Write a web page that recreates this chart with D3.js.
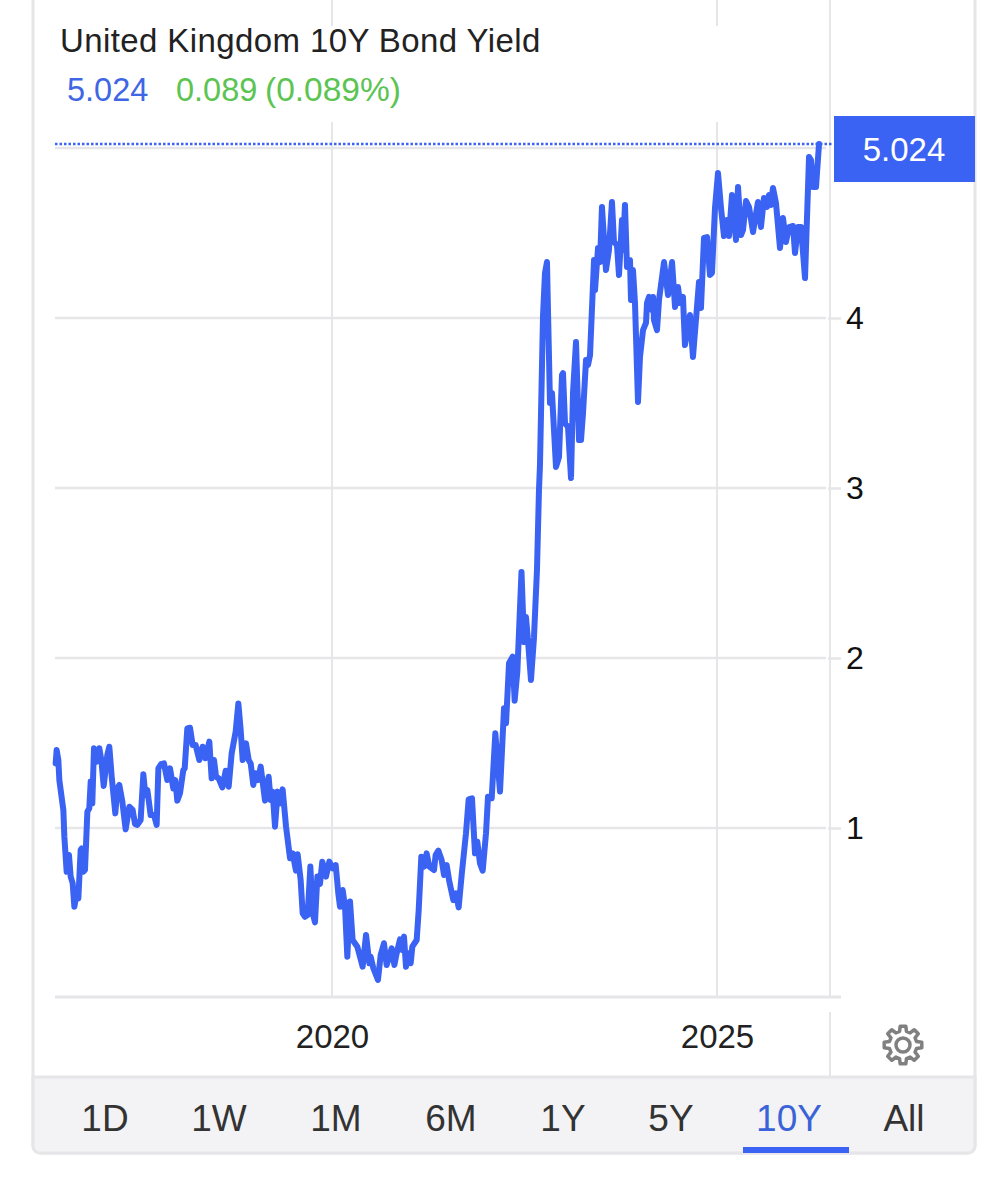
<!DOCTYPE html>
<html>
<head>
<meta charset="utf-8">
<script src="https://cdn.jsdelivr.net/npm/d3@7"></script>
<style>
  html, body { margin: 0; padding: 0; background: #fff; }
  text { font-family: "Liberation Sans", sans-serif; }
  .axis .domain { display: none; }
</style>
</head>
<body>
<script>
// decimal year of each reading and the yield at that reading
const years = [
2016.411,2016.424,2016.446,2016.459,2016.511,2016.524,2016.554,2016.584,2016.606,2016.632,
2016.654,2016.684,2016.706,2016.736,2016.749,2016.771,2016.792,2016.823,2016.848,2016.866,
2016.887,2016.909,2016.944,2016.978,2017.004,2017.035,2017.082,2017.108,2017.139,2017.186,
2017.212,2017.238,2017.277,2017.320,2017.368,2017.411,2017.442,2017.472,2017.515,2017.550,
2017.576,2017.602,2017.645,2017.688,2017.723,2017.745,2017.779,2017.818,2017.861,2017.896,
2017.939,2017.965,2017.991,2018.026,2018.069,2018.087,2018.121,2018.156,2018.190,2018.229,
2018.277,2018.320,2018.355,2018.407,2018.437,2018.468,2018.494,2018.528,2018.576,2018.619,
2018.658,2018.697,2018.749,2018.784,2018.814,2018.840,2018.883,2018.918,2018.944,2018.978,
2019.004,2019.039,2019.074,2019.130,2019.177,2019.203,2019.229,2019.260,2019.294,2019.325,
2019.359,2019.403,2019.455,2019.489,2019.532,2019.554,2019.593,2019.619,2019.649,2019.684,
2019.719,2019.749,2019.779,2019.810,2019.844,2019.874,2019.922,2019.965,2020.009,2020.048,
2020.082,2020.104,2020.139,2020.169,2020.199,2020.234,2020.268,2020.329,2020.398,2020.442,
2020.485,2020.502,2020.537,2020.597,2020.632,2020.675,2020.710,2020.775,2020.810,2020.840,
2020.883,2020.909,2020.935,2020.961,2020.991,2021.022,2021.043,2021.100,2021.126,2021.160,
2021.195,2021.229,2021.264,2021.325,2021.346,2021.381,2021.424,2021.455,2021.489,2021.524,
2021.576,2021.610,2021.645,2021.684,2021.740,2021.775,2021.818,2021.857,2021.887,2021.922,
2021.957,2022.000,2022.026,2022.074,2022.121,2022.182,2022.212,2022.234,2022.260,2022.299,
2022.346,2022.372,2022.407,2022.461,2022.494,2022.519,2022.545,2022.584,2022.623,2022.662,
2022.688,2022.701,2022.740,2022.766,2022.792,2022.805,2022.831,2022.857,2022.909,2022.948,
2022.987,2023.000,2023.026,2023.065,2023.104,2023.130,2023.169,2023.208,2023.234,2023.260,
2023.299,2023.325,2023.351,2023.403,2023.416,2023.455,2023.481,2023.506,2023.558,2023.597,
2023.636,2023.662,2023.701,2023.727,2023.766,2023.779,2023.805,2023.831,2023.870,2023.883,
2023.909,2023.935,2023.974,2024.000,2024.039,2024.078,2024.091,2024.117,2024.156,2024.169,
2024.182,2024.221,2024.247,2024.312,2024.364,2024.416,2024.455,2024.494,2024.519,2024.558,
2024.584,2024.649,2024.688,2024.766,2024.792,2024.831,2024.870,2024.909,2024.935,2024.974,
2025.013,2025.052,2025.091,2025.130,2025.156,2025.195,2025.247,2025.273,2025.312,2025.338,
2025.377,2025.416,2025.468,2025.532,2025.571,2025.610,2025.649,2025.675,2025.701,2025.727,
2025.766,2025.818,2025.857,2025.896,2025.935,2025.987,2026.013,2026.052,2026.091,2026.143,
2026.195,2026.221,2026.247,2026.286,2026.325
];
const yields = [
1.380,1.459,1.400,1.282,1.106,0.949,0.743,0.841,0.714,0.675,
0.537,0.616,0.586,0.871,0.880,0.743,0.753,1.096,1.116,1.273,
1.145,1.469,1.390,1.469,1.400,1.247,1.429,1.478,1.302,1.086,
1.233,1.253,1.155,0.992,1.125,1.106,1.024,1.018,1.047,1.316,
1.194,1.224,1.076,1.076,1.018,1.351,1.375,1.380,1.282,1.351,
1.233,1.282,1.161,1.204,1.341,1.351,1.586,1.590,1.488,1.488,
1.400,1.478,1.410,1.508,1.292,1.400,1.302,1.292,1.239,1.337,
1.243,1.439,1.567,1.733,1.576,1.400,1.498,1.400,1.380,1.253,
1.322,1.282,1.361,1.161,1.302,1.165,1.214,1.008,1.214,1.145,
1.227,1.008,0.822,0.851,0.749,0.845,0.694,0.498,0.478,0.488,
0.773,0.498,0.445,0.714,0.671,0.802,0.714,0.802,0.763,0.782,
0.616,0.537,0.635,0.537,0.243,0.567,0.341,0.302,0.184,0.371,
0.204,0.243,0.175,0.106,0.253,0.322,0.194,0.292,0.194,0.263,
0.345,0.282,0.361,0.184,0.263,0.204,0.302,0.341,0.518,0.831,
0.773,0.851,0.773,0.753,0.841,0.867,0.812,0.724,0.782,0.684,
0.576,0.616,0.533,0.724,0.969,1.169,1.175,0.851,0.920,0.792,
0.749,0.969,1.184,1.175,1.557,1.214,1.498,1.704,1.616,1.969,
2.008,1.749,1.920,2.506,2.094,2.241,2.106,1.871,2.118,2.518,
2.988,3.135,4.006,4.265,4.329,4.047,3.500,3.559,3.124,3.182,
3.665,3.676,3.382,3.359,3.059,3.559,3.859,3.282,3.282,3.441,
3.753,3.724,3.782,4.341,4.165,4.412,4.329,4.653,4.282,4.400,
4.682,4.447,4.429,4.253,4.576,4.400,4.665,4.300,4.341,4.106,
4.282,4.088,3.506,3.771,3.929,3.971,4.088,4.124,4.047,4.124,
3.988,3.929,4.106,4.329,4.135,4.329,4.065,4.182,4.088,4.124,
3.841,4.018,3.771,4.212,4.059,4.471,4.476,4.253,4.265,4.647,
4.853,4.647,4.482,4.576,4.482,4.724,4.459,4.771,4.488,4.518,
4.688,4.653,4.506,4.682,4.535,4.706,4.653,4.724,4.665,4.765,
4.676,4.412,4.588,4.447,4.535,4.541,4.382,4.535,4.535,4.235,
4.947,4.929,4.771,4.771,5.024
];
const yTicks = [1, 2, 3, 4, 5];
const yTickLabels = ["1", "2", "3", "4", ""];
const xTicks = [2020, 2025];
const ranges = ["1D", "1W", "1M", "6M", "1Y", "5Y", "10Y", "All"];
const activeRange = "10Y";
const lastValue = "5.024";
const change = "0.089";
const changePct = "(0.089%)";

const blue = "#3a63f4", grid = "#e6e6e9", green = "#5cc452";
const width = 1008, height = 1200;

const svg = d3.select("body").append("svg")
    .attr("width", width).attr("height", height)
    .style("display", "block");

// scales, years run left to right, yield 0 sits on the bottom line
const x = d3.scaleLinear().domain([2020, 2025]).range([332, 717]);
const y = d3.scaleLinear().domain([1, 4]).range([828, 318]);
const bottom = 997, left = 55, plotRight = 826;

// card frame
svg.append("path")
    .attr("d", "M33,0 V1146 a7,7 0 0 0 7,7 H968 a7,7 0 0 0 7,-7 V0")
    .attr("fill", "#fff").attr("stroke", grid).attr("stroke-width", 3);
svg.append("path")
    .attr("d", "M33,1077 H975 V1146 a7,7 0 0 1 -7,7 H40 a7,7 0 0 1 -7,-7 Z")
    .attr("fill", "#f3f3f5").attr("stroke", grid).attr("stroke-width", 3);

// divider between plot and price scale
svg.append("line").attr("x1", 830).attr("x2", 830).attr("y1", 0).attr("y2", 998)
    .attr("stroke", grid).attr("stroke-width", 2);
svg.append("line").attr("x1", 830).attr("x2", 830).attr("y1", 1012).attr("y2", 1077)
    .attr("stroke", grid).attr("stroke-width", 2);

// year gridlines, they stop under the header
svg.append("g").selectAll("line").data(xTicks).join("line")
    .attr("x1", d => x(d)).attr("x2", d => x(d))
    .attr("y1", 122).attr("y2", bottom)
    .attr("stroke", grid).attr("stroke-width", 2);
svg.append("g").selectAll("line").data(xTicks).join("line")
    .attr("x1", d => x(d)).attr("x2", d => x(d))
    .attr("y1", 0).attr("y2", 26)
    .attr("stroke", grid).attr("stroke-width", 2);

// yield gridlines
svg.append("g").selectAll("line").data(yTicks).join("line")
    .attr("x1", left).attr("x2", plotRight)
    .attr("y1", d => y(d)).attr("y2", d => y(d))
    .attr("stroke", grid).attr("stroke-width", 2.5);

// y axis, ticks sit right of the divider
const yAxis = d3.axisRight(y).tickValues(yTicks)
    .tickFormat((d, i) => yTickLabels[i]).tickSize(13).tickPadding(5);
const gy = svg.append("g").attr("class", "axis")
    .attr("transform", "translate(828,0)").call(yAxis);
gy.selectAll("line").attr("stroke", grid).attr("stroke-width", 2.5)
    .filter(d => d === 5).remove();
gy.selectAll("text").attr("font-size", 32).attr("fill", "#111")
    .attr("font-family", "Liberation Sans, sans-serif");

// x axis
svg.append("line").attr("x1", left).attr("x2", 841).attr("y1", bottom).attr("y2", bottom)
    .attr("stroke", grid).attr("stroke-width", 3);
const xAxis = d3.axisBottom(x).tickValues(xTicks).tickFormat(d3.format("d"))
    .tickSize(0).tickPadding(28);
const gx = svg.append("g").attr("class", "axis")
    .attr("transform", `translate(0,${bottom})`).call(xAxis);
gx.selectAll("text").attr("font-size", 33).attr("fill", "#222")
    .attr("font-family", "Liberation Sans, sans-serif");

// last value dotted line
svg.append("line")
    .attr("x1", left).attr("x2", 832)
    .attr("y1", y(+lastValue)).attr("y2", y(+lastValue))
    .attr("stroke", blue).attr("stroke-width", 2.5)
    .attr("stroke-dasharray", "2.5,2");

// the series
const line = d3.line().x((d, i) => x(years[i])).y(d => y(d));
svg.append("path")
    .attr("d", line(yields))
    .attr("fill", "none").attr("stroke", blue).attr("stroke-width", 6)
    .attr("stroke-linejoin", "round").attr("stroke-linecap", "round");

// last value badge
svg.append("rect").attr("x", 834).attr("y", 116).attr("width", 141).attr("height", 66)
    .attr("fill", blue);
svg.append("text").attr("x", 904).attr("y", 161).attr("text-anchor", "middle")
    .attr("font-size", 33).attr("fill", "#fff").text(lastValue);

// header
svg.append("text").attr("x", 60).attr("y", 52).attr("font-size", 33)
    .attr("letter-spacing", 0.4)
    .attr("fill", "#222").text("United Kingdom 10Y Bond Yield");
svg.append("text").attr("x", 67).attr("y", 101).attr("font-size", 32.5)
    .attr("fill", "#3f66e4").text(lastValue);
svg.append("text").attr("x", 176).attr("y", 101).attr("font-size", 32.5)
    .attr("fill", green).text(change);
svg.append("text").attr("x", 265).attr("y", 101).attr("font-size", 33.5)
    .attr("fill", green).text(changePct);

// range selector
const rangeCenters = [105, 219, 336, 451, 563, 671, 789, 904];
svg.append("g").selectAll("text").data(ranges).join("text")
    .attr("x", (d, i) => rangeCenters[i]).attr("y", 1131)
    .attr("text-anchor", "middle").attr("font-size", 37)
    .attr("fill", d => d === activeRange ? "#3a63d8" : "#333").text(d => d);
svg.append("rect").attr("x", 743).attr("y", 1147).attr("width", 106).attr("height", 6)
    .attr("fill", blue);

// settings gear
const teeth = 8, outer = 19, inner = 14;
const gearPts = [];
d3.range(teeth).forEach(i => {
    const a = (i / teeth) * 2 * Math.PI - Math.PI / 2, s = 0.2;
    gearPts.push([a - s * 1.25, inner], [a - s * 0.75, outer], [a + s * 0.75, outer], [a + s * 1.25, inner]);
});
const gear = svg.append("g").attr("transform", "translate(903,1045)")
    .attr("fill", "none").attr("stroke", "#808080").attr("stroke-width", 3.5)
    .attr("stroke-linejoin", "round");
gear.append("path").attr("d", d3.lineRadial().curve(d3.curveLinearClosed)
    .angle(d => d[0] + Math.PI / 2).radius(d => d[1])(gearPts));
gear.append("circle").attr("r", 7);
</script>
</body>
</html>
